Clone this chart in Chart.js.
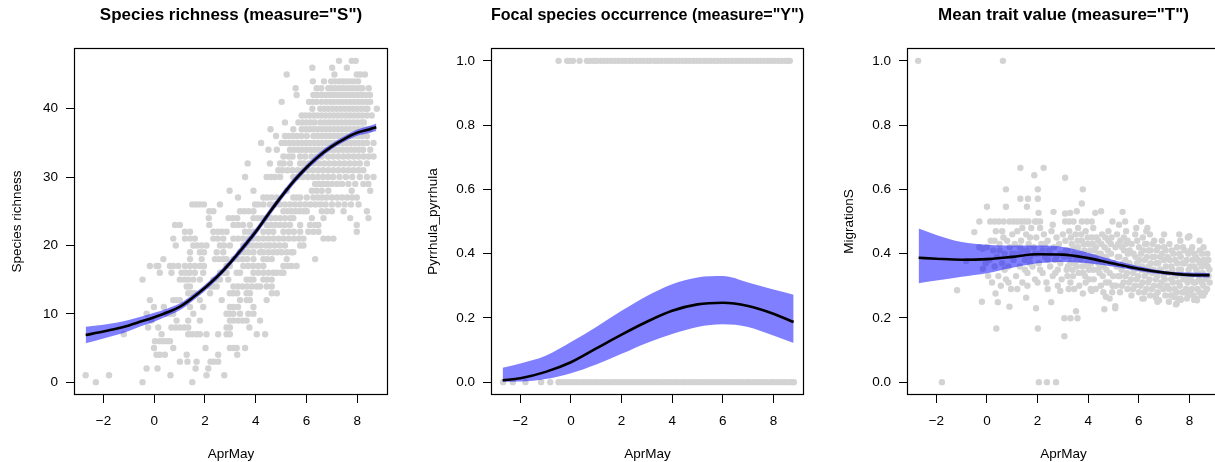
<!DOCTYPE html>
<html><head><meta charset="utf-8">
<script src="https://cdn.jsdelivr.net/npm/chart.js@4.4.1/dist/chart.umd.min.js"></script>
<style>
html,body{margin:0;padding:0;background:#fff;overflow:hidden;width:1215px;height:462px;}
canvas{position:absolute;top:0;}
</style></head><body>
<canvas id="c1" width="405" height="462" style="left:0px"></canvas>
<canvas id="c2" width="405" height="462" style="left:405px"></canvas>
<canvas id="c3" width="420" height="462" style="left:810px"></canvas>
<script>
// ---------- shared axis data ----------
const xTicks = [-2, 0, 2, 4, 6, 8];
const richTicks = [0, 10, 20, 30, 40];
const propTicks = [0, 0.2, 0.4, 0.6, 0.8, 1.0];
const xRange = [-3.16, 9.21];
const richRange = [-1.88, 48.88];
const propRange = [-0.04, 1.04];

// ---------- panel 1: species richness ----------
const richnessRows = [
 [47,[7.28,7.78,7.94]],
 [46,[6.23,7.01,7.59]],
 [45,[5.22,7.10,7.98,8.12,8.30]],
 [44,[6.25,6.69,6.97,7.12,7.28,7.42,7.55,7.70,7.85,8.03]],
 [43,[5.57,6.40,6.58,6.86,7.00,7.15,7.30,7.45,7.62,7.78,7.95,8.10,8.20,8.45]],
 [42,[5.61,6.27,6.42,6.58,6.74,6.90,7.05,7.20,7.36,7.52,7.68,7.84,8.00,8.16,8.32,8.50]],
 [41,[5.02,6.10,6.25,6.40,6.60,6.78,6.95,7.10,7.26,7.42,7.58,7.74,7.90,8.06,8.22,8.38,8.51]],
 [40,[6.23,6.54,6.70,6.86,7.02,7.18,7.34,7.50,7.66,7.82,7.98,8.14,8.30,8.40,8.77]],
 [39,[5.81,5.96,6.12,6.28,6.44,6.60,6.76,6.92,7.08,7.24,7.40,7.56,7.72,7.88,8.04,8.20,8.38,8.57]],
 [38,[5.15,5.68,5.84,6.00,6.16,6.32,6.55,6.72,6.88,7.04,7.20,7.36,7.52,7.68,7.84,8.00,8.16,8.26]],
 [37,[4.58,5.48,5.81,5.97,6.13,6.29,6.45,6.61,6.77,6.93,7.09,7.25,7.41,7.57,7.73,7.89,8.05,8.21,8.37,8.51]],
 [36,[4.80,5.15,5.30,5.46,5.62,5.80,6.01,6.27,6.43,6.59,6.75,6.91,7.07,7.23,7.39,7.55,7.71,7.87,8.03,8.19,8.38]],
 [35,[4.21,5.02,5.18,5.34,5.50,5.66,5.82,5.98,6.14,6.30,6.46,6.62,6.78,6.94,7.10,7.26,7.42,7.58,7.74,7.90,8.06,8.22,8.38,8.64]],
 [34,[4.50,4.83,5.35,5.51,5.67,5.83,5.99,6.15,6.31,6.47,6.63,6.79,6.95,7.11,7.27,7.43,7.59,7.75,7.91,8.07,8.23,8.51]],
 [33,[5.09,5.30,5.45,5.75,5.95,6.20,6.40,6.60,6.85,7.05,7.25,7.45,7.65,7.85,8.05,8.25,8.45,8.64]],
 [32,[3.68,4.56,4.96,5.10,5.35,5.75,5.90,6.10,6.30,6.50,6.70,6.90,7.10,7.30,7.50,7.70,7.90,8.10,8.38]],
 [31,[4.89,5.05,5.25,5.45,5.65,5.85,6.05,6.25,6.45,6.65,6.85,7.05,7.25,7.45,7.65,7.85,8.05,8.24]],
 [30,[3.58,4.43,4.60,4.76,4.96,5.48,5.65,5.85,6.05,6.25,6.45,6.65,6.85,7.05,7.30,7.55,7.80,8.10,8.38,8.64]],
 [29,[6.34,6.50,6.66,6.82,7.00,7.20,7.40,7.65,7.92,8.24,8.44]],
 [28,[2.97,3.91,5.22,6.21,6.40,6.60,6.86,7.78,8.51]],
 [27,[3.30,4.30,4.45,4.63,4.83,5.48,5.62,5.75,6.01,6.27,6.45,6.62,6.80,7.00,7.20,7.40,7.60,7.80,7.98]],
 [26,[1.50,1.65,1.80,1.96,2.59,3.97,4.10,4.30,4.56,4.75,4.95,5.15,5.35,5.55,5.75,5.95,6.15,6.35,6.55,6.75,7.00,7.25,7.50,7.75,8.05]],
 [25,[2.17,2.33,3.38,3.55,3.72,3.91,5.09,5.25,5.41,5.57,5.73,5.88,6.01,6.60,6.80,7.00,7.46,8.38]],
 [24,[2.15,2.93,3.10,3.27,3.91,4.08,4.25,4.42,4.60,4.78,4.96,5.15,5.35,5.48,6.21,6.67,7.72,8.44]],
 [23,[0.82,1.01,2.17,3.12,3.30,3.50,3.77,4.43,4.60,4.78,4.96,5.15,5.35,5.75,6.14,6.34,6.47,7.98]],
 [22,[1.21,1.41,2.33,2.50,2.66,2.85,3.58,3.75,3.91,4.30,4.50,4.69,5.09,5.30,5.50,5.75,6.07,6.27,6.47,7.98]],
 [21,[0.75,1.21,1.41,1.60,2.33,2.50,2.72,3.12,3.30,3.50,3.70,3.90,4.10,4.30,4.50,4.70,4.90,5.10,5.30,5.50,5.70,5.88,6.67,6.86,7.06]],
 [20,[0.85,1.54,1.70,1.87,2.06,2.59,2.75,2.98,3.51,3.68,3.85,4.02,4.20,4.40,4.56,4.75,4.95,5.15,5.75,5.88]],
 [19,[1.41,1.80,1.96,2.46,2.72,3.38,3.55,3.71,3.91,4.17,4.30,4.50,4.68,4.85,5.02,5.22,5.40,5.48]],
 [18,[0.36,1.41,1.87,2.39,2.55,2.72,2.85,3.12,3.30,3.48,3.66,3.91,4.30,4.45,4.63,5.22,6.34]],
 [17,[-0.17,0.09,0.16,0.62,0.75,0.95,1.21,1.41,1.60,1.80,1.96,2.85,2.98,3.51,3.70,3.90,4.10,4.30,5.09,5.25,5.41,5.61]],
 [16,[0.22,0.68,1.08,1.25,1.41,1.60,1.93,2.59,2.75,2.85,3.25,3.38,3.91,4.10,4.30,4.50,4.69,4.83,5.00,5.09]],
 [15,[-0.46,1.01,1.18,1.34,1.54,1.80,2.33,2.46,2.59,2.92,3.64,3.78,3.91,4.30,4.45,4.63]],
 [14,[1.28,1.41,2.20,2.33,2.46,3.12,3.30,3.48,3.66,3.85,4.04,4.17,4.43,4.63]],
 [13,[1.34,1.47,1.60,2.20,2.98,3.12,3.27,3.64,3.77,4.63,4.83]],
 [12,[-0.17,0.75,0.88,1.01,1.80,2.66,3.38,3.64,3.77,4.43]],
 [11,[-0.01,0.38,1.41,1.93,2.98,3.12,3.30,3.91]],
 [10,[-0.30,0.49,0.62,0.75,1.54,2.85,2.98,3.12,3.38,3.71,3.91]],
 [9,[-0.11,0.88,1.34,1.80,2.98,3.12,3.30,3.48,3.64,4.17]],
 [8,[-0.24,0.16,0.68,0.85,1.01,1.18,1.34,2.85,2.98,3.75]],
 [7,[-1.20,0.29,1.34,1.50,1.67,1.80,2.06,2.52,2.85,2.98,4.04,4.37]],
 [6,[0.03,0.22,0.36,0.49,0.62]],
 [5,[-0.01,0.75,2.02,2.98,3.12,3.25,3.58]],
 [4,[0.09,0.22,0.42,1.28,2.52,3.27]],
 [3,[1.01,1.31,1.67,2.22,2.35,2.52]],
 [2,[-0.30,0.13,1.63,2.13]],
 [1,[-2.70,-1.78,0.64,2.06,2.76]],
 [0,[-2.30,-0.46,1.50]]
];
const richFitX  = [-2.7,-2,-1.5,-1,-0.5,0,0.5,1,1.5,2,2.5,3,3.5,4,4.5,5,5.5,6,6.5,7,7.5,8,8.5,8.75];
const richFit   = [6.9,7.4,7.8,8.3,8.9,9.5,10.2,11.0,12.3,13.8,15.5,17.5,19.7,22.0,24.6,27.1,29.4,31.4,33.1,34.5,35.6,36.5,37.0,37.3];
const richUpper = [8.1,8.4,8.7,9.1,9.6,10.15,10.75,11.5,12.75,14.25,15.95,17.95,20.2,22.5,25.1,27.6,29.9,31.85,33.55,34.9,36.0,36.95,37.5,37.85];
const richLower = [5.7,6.4,6.9,7.5,8.2,8.85,9.65,10.5,11.85,13.35,15.05,17.05,19.2,21.5,24.1,26.6,28.9,30.95,32.65,34.1,35.2,36.05,36.5,36.75];

// ---------- panel 2: focal species occurrence ----------
const occPresentX = [-0.49,-0.15,-0.05,0.08,0.34,0.63,0.75,0.9,1.02,1.18,1.31,1.45,1.6,1.74,1.88,2.03,2.16,2.31,2.44,2.6,2.73,2.87,3.02,3.14,3.3,3.43,3.57,3.72,3.85,3.99,4.14,4.27,4.42,4.55,4.69,4.84,4.97,5.11,5.26,5.39,5.53,5.68,5.81,5.95,6.1,6.23,6.37,6.52,6.65,6.79,6.94,7.07,7.21,7.36,7.49,7.63,7.78,7.91,8.05,8.2,8.33,8.47,8.58,8.65];
const occAbsentX = [-2.68,-2.30,-1.80,-1.18,-0.82,-0.49,-0.36,-0.22,-0.08,0.06,0.2,0.33,0.48,0.61,0.75,0.9,1.03,1.17,1.32,1.45,1.6,1.73,1.87,2.02,2.15,2.3,2.43,2.57,2.72,2.85,3.0,3.13,3.27,3.42,3.55,3.7,3.83,3.97,4.12,4.25,4.4,4.53,4.67,4.82,4.95,5.1,5.23,5.37,5.52,5.65,5.8,5.93,6.07,6.22,6.35,6.5,6.63,6.77,6.92,7.05,7.2,7.33,7.47,7.62,7.75,7.9,8.03,8.17,8.32,8.45,8.6,8.72,8.81];
const occFitX  = [-2.7,-2,-1,0,1,2,3,4,5,6,7,8,8.8];
const occFit   = [0.006,0.012,0.032,0.062,0.105,0.148,0.188,0.222,0.242,0.247,0.237,0.213,0.187];
const occUpper = [0.045,0.058,0.082,0.125,0.172,0.222,0.268,0.305,0.326,0.330,0.310,0.288,0.272];
const occLower = [0.001,0.002,0.010,0.028,0.055,0.088,0.122,0.150,0.172,0.180,0.172,0.145,0.122];

// ---------- panel 3: mean trait value ----------
const traitPoints = [
 [-2.72,1.0],[0.63,1.0],[-1.78,0],[2.05,0],[2.37,0],[2.73,0],
 [1.32,0.667],[2.24,0.667],[1.87,0.644],[3.09,0.636],[0.75,0.60],[2.01,0.60],[3.79,0.60],[1.32,0.571],[1.62,0.571],[2.01,0.571],
 [3.75,0.556],[0.0,0.546],[0.75,0.546],[1.58,0.546],[2.04,0.527],[2.63,0.53],[3.09,0.525],[3.29,0.527],[3.55,0.532],[4.28,0.527],[4.51,0.532],[5.36,0.53],
 [-0.30,0.5],[0.13,0.5],[0.3,0.5],[0.47,0.5],[0.66,0.5],[0.89,0.5],[1.05,0.5],[1.2,0.5],[1.35,0.5],[1.5,0.5],[1.64,0.5],[1.97,0.5],[2.1,0.5],
 [3.09,0.5],[3.25,0.5],[3.42,0.5],[3.75,0.5],[3.95,0.5],[4.14,0.5],[4.96,0.5],[5.46,0.5],[6.09,0.5],
 [-0.5,0.467],[6.34,0.48],[8.0,0.454],[-1.18,0.286],[-0.82,0.377],[-0.17,0.415],[-0.16,0.353],[-0.2,0.25],[0.34,0.276],[0.43,0.249],[0.37,0.167],
 [0.89,0.235],[1.55,0.263],[2.01,0.167],[1.94,0.23],[2.54,0.249],[2.9,0.284],[3.23,0.29],[3.79,0.276],[3.06,0.199],[3.3,0.199],[3.58,0.199],
 [3.52,0.221],[3.06,0.143],[4.64,0.227],[5.07,0.236],[5.07,0.23],[4.70,0.266],[4.97,0.30],[4.14,0.284],
 [6.68,0.263],[7.47,0.242],[7.66,0.256],[8.19,0.256],
 [-0.3,0.42],[-0.05,0.37],[0.0,0.42],[0.05,0.33],[0.1,0.38],[0.15,0.44],[0.2,0.31],[0.25,0.41],[0.3,0.36],[0.35,0.47],[0.4,0.39],[0.45,0.33],
 [0.5,0.43],[0.55,0.30],[0.6,0.37],[0.65,0.45],[0.7,0.40],[0.75,0.32],[0.8,0.44],[0.85,0.36],[0.9,0.42],[0.95,0.29],[1.0,0.46],[0.3,0.44],
 [0.7,0.35],[0.5,0.41],[0.6,0.47],[0.85,0.31],
 [1.05,0.38],[1.1,0.43],[1.15,0.33],[1.2,0.47],[1.25,0.40],[1.3,0.36],[1.35,0.44],[1.4,0.31],[1.45,0.41],[1.5,0.38],[1.55,0.46],[1.6,0.34],
 [1.65,0.43],[1.7,0.39],[1.75,0.48],[1.8,0.36],[1.85,0.42],[1.9,0.32],[1.95,0.45],[2.0,0.40],[2.05,0.37],[2.1,0.48],[2.15,0.43],[2.2,0.34],
 [2.25,0.46],[2.3,0.39],[2.35,0.31],[2.4,0.44],[2.45,0.41],[2.5,0.36],[2.55,0.47],[2.6,0.33],[2.65,0.42],[2.7,0.38],[2.75,0.45],[2.8,0.35],
 [2.85,0.43],[2.9,0.40],[2.95,0.32],[3.0,0.46],[1.2,0.29],[1.6,0.30],[2.0,0.31],[2.4,0.29],[2.8,0.30],[1.4,0.48],[1.9,0.50],[2.6,0.49],
 [1.0,0.40],[1.7,0.45],[2.2,0.41],[2.75,0.39],
 [1.1,0.40],[1.3,0.42],[1.5,0.35],[1.7,0.37],[1.9,0.40],[2.1,0.35],[2.3,0.43],[2.5,0.40],[2.7,0.34],[2.9,0.37],[1.6,0.41],[2.4,0.38],
 [3.05,0.39],[3.1,0.44],[3.15,0.35],[3.2,0.41],[3.25,0.47],[3.3,0.37],[3.35,0.43],[3.4,0.33],[3.45,0.40],[3.5,0.46],[3.55,0.36],[3.6,0.42],
 [3.65,0.30],[3.7,0.38],[3.75,0.44],[3.8,0.34],[3.85,0.41],[3.9,0.47],[3.95,0.37],[4.0,0.43],[4.05,0.32],[4.1,0.39],[4.15,0.45],[4.2,0.35],
 [4.25,0.41],[4.3,0.29],[4.35,0.38],[4.4,0.44],[4.45,0.34],[4.5,0.40],[4.55,0.46],[4.6,0.36],[4.65,0.42],[4.7,0.31],[4.75,0.38],[4.8,0.44],
 [4.85,0.34],[4.9,0.40],[4.95,0.28],[5.0,0.37],[3.3,0.31],[3.6,0.48],[3.9,0.31],[4.2,0.48],[4.5,0.30],[4.8,0.47],[3.5,0.39],[4.0,0.36],
 [4.3,0.42],[4.7,0.39],[3.2,0.36],[3.8,0.40],[4.4,0.37],[4.9,0.43],
 [3.12,0.41],[3.18,0.33],[3.27,0.39],[3.32,0.45],[3.38,0.35],[3.43,0.42],[3.48,0.37],[3.58,0.44],[3.62,0.34],[3.68,0.40],[3.72,0.46],[3.78,0.36],
 [3.83,0.43],[3.88,0.33],[3.93,0.39],[3.98,0.45],[4.03,0.35],[4.08,0.41],[4.12,0.37],[4.18,0.43],[4.22,0.32],[4.28,0.39],[4.33,0.45],[4.38,0.35],
 [4.42,0.40],[4.48,0.36],[4.52,0.43],[4.58,0.33],[4.62,0.39],[4.68,0.45],[4.72,0.35],[4.78,0.41],[4.82,0.31],[4.88,0.37],[4.92,0.45],[4.98,0.33],
 [3.45,0.29],[4.1,0.29],[4.6,0.28],[4.85,0.26],
 [5.1,0.30],[5.12,0.36],[5.08,0.42],[5.14,0.46],[5.25,0.33],[5.23,0.39],[5.27,0.44],[5.26,0.28],[5.4,0.31],[5.38,0.37],[5.42,0.41],[5.41,0.45],
 [5.55,0.29],[5.53,0.34],[5.57,0.40],[5.56,0.44],[5.7,0.32],[5.68,0.36],[5.72,0.43],[5.71,0.27],[5.85,0.30],[5.83,0.35],[5.87,0.39],[5.86,0.46],
 [6.0,0.28],[5.98,0.33],[6.02,0.38],[6.01,0.42],[6.15,0.31],[6.13,0.36],[6.17,0.41],[6.16,0.45],[6.14,0.26],[6.3,0.29],[6.28,0.34],[6.32,0.39],
 [6.31,0.43],[6.45,0.27],[6.43,0.32],[6.47,0.37],[6.46,0.41],[6.44,0.46],[6.6,0.30],[6.58,0.35],[6.62,0.39],[6.61,0.44],[6.75,0.28],[6.73,0.33],
 [6.77,0.37],[6.76,0.42],[6.74,0.25],[6.9,0.31],[6.88,0.35],[6.92,0.40],[6.91,0.44],[7.05,0.27],[7.03,0.32],[7.07,0.36],[7.06,0.41],[7.2,0.29],
 [7.18,0.34],[7.22,0.38],[7.21,0.43],[7.19,0.25],[7.35,0.31],[7.33,0.35],[7.37,0.40],[7.36,0.27],[7.5,0.28],[7.48,0.33],[7.52,0.37],[7.51,0.42],
 [7.65,0.26],[7.63,0.30],[7.67,0.35],[7.66,0.39],[7.64,0.44],[7.8,0.28],[7.78,0.32],[7.82,0.37],[7.81,0.41],[7.95,0.27],[7.93,0.31],[7.97,0.35],
 [7.96,0.40],[7.94,0.45],[8.1,0.29],[8.08,0.33],[8.12,0.38],[8.11,0.42],[8.25,0.26],[8.23,0.31],[8.27,0.35],[8.26,0.39],[8.4,0.28],[8.38,0.32],
 [8.42,0.37],[8.41,0.41],[8.55,0.30],[8.53,0.34],[8.57,0.38],[8.56,0.42],[8.7,0.29],[8.68,0.33],[8.72,0.36],[8.71,0.40],[8.8,0.31],[8.79,0.35],
 [5.22,0.49],[5.5,0.47],[5.9,0.48],[6.3,0.47],[7.0,0.46],[7.6,0.46],[8.4,0.44],[7.5,0.245],[7.9,0.26],[8.3,0.255],[8.55,0.27],[6.2,0.26],
 [6.8,0.255],[7.4,0.265],
 [5.18,0.33],[5.17,0.39],[5.19,0.43],[5.33,0.30],[5.32,0.35],[5.34,0.42],[5.48,0.33],[5.47,0.38],[5.49,0.43],[5.62,0.31],[5.63,0.37],[5.64,0.41],
 [5.77,0.29],[5.78,0.34],[5.79,0.40],[5.92,0.32],[5.93,0.37],[5.94,0.44],[6.07,0.30],[6.08,0.35],[6.09,0.40],[6.22,0.28],[6.23,0.33],[6.24,0.38],
 [6.25,0.43],[6.37,0.31],[6.38,0.36],[6.39,0.41],[6.52,0.29],[6.53,0.34],[6.54,0.39],[6.55,0.43],[6.67,0.27],[6.68,0.32],[6.69,0.37],[6.70,0.41],
 [6.82,0.30],[6.83,0.35],[6.84,0.39],[6.97,0.29],[6.98,0.33],[6.99,0.38],[7.0,0.42],[7.12,0.30],[7.13,0.34],[7.14,0.39],[7.27,0.27],[7.28,0.32],
 [7.29,0.36],[7.30,0.41],[7.42,0.29],[7.43,0.33],[7.44,0.38],[7.57,0.26],[7.58,0.31],[7.59,0.35],[7.60,0.40],[7.72,0.28],[7.73,0.33],[7.74,0.37],
 [7.75,0.42],[7.87,0.29],[7.88,0.33],[7.89,0.38],[8.02,0.28],[8.03,0.32],[8.04,0.36],[8.05,0.41],[8.17,0.27],[8.18,0.31],[8.19,0.36],[8.20,0.40],
 [8.32,0.29],[8.33,0.34],[8.34,0.38],[8.47,0.27],[8.48,0.31],[8.49,0.36],[8.50,0.40],[8.62,0.28],[8.63,0.32],[8.64,0.37],[8.76,0.33],[8.75,0.38]
];
const traitFitX  = [-2.7,-2,-1,0,1,2,3,4,5,6,7,8,8.8];
const traitFit   = [0.387,0.384,0.381,0.383,0.390,0.398,0.397,0.386,0.369,0.353,0.341,0.334,0.333];
const traitUpper = [0.478,0.458,0.436,0.428,0.425,0.425,0.421,0.403,0.380,0.361,0.346,0.341,0.340];
const traitLower = [0.308,0.316,0.328,0.339,0.356,0.370,0.374,0.370,0.360,0.346,0.335,0.328,0.326];

// ---------- rendering ----------
const FONT = "'Liberation Sans', Arial, Helvetica, sans-serif";
const boxPlugin = {
  id: 'box',
  afterDraw(chart) {
    const a = chart.chartArea, ctx = chart.ctx;
    ctx.save();
    ctx.strokeStyle = '#000'; ctx.lineWidth = 1.2;
    ctx.strokeRect(Math.round(a.left) + 0.5, Math.round(a.top) + 0.5,
      Math.round(a.right) - Math.round(a.left) - 1, Math.round(a.bottom) - Math.round(a.top) - 1);
    ctx.restore();
  }
};
const pairs = (xs, ys) => xs.map((x, i) => ({x, y: ys[i]}));
const minus = s => String(s).replace('-', '\u2212');

function makeChart(id, o) {
  const gridOpts = {display: true, drawOnChartArea: false, drawTicks: true, tickLength: 8, tickWidth: 1, tickColor: '#000', color: '#000'};
  new Chart(document.getElementById(id), {
    type: 'scatter',
    data: {
      datasets: [
        {type: 'line', label: 'fit', data: pairs(o.fitX, o.fit), borderColor: '#000', borderWidth: 2.6,
         pointRadius: 0, fill: false, cubicInterpolationMode: 'monotone', order: 0},
        {type: 'line', label: 'upper', data: pairs(o.fitX, o.upper), borderColor: 'rgba(0,0,0,0)', borderWidth: 0,
         pointRadius: 0, fill: {target: 2}, backgroundColor: 'rgba(0,0,255,0.5)', cubicInterpolationMode: 'monotone', order: 1},
        {type: 'line', label: 'lower', data: pairs(o.fitX, o.lower), borderColor: 'rgba(0,0,0,0)', borderWidth: 0,
         pointRadius: 0, fill: false, cubicInterpolationMode: 'monotone', order: 2},
        {type: 'scatter', label: 'obs', data: o.points, pointRadius: 3.2, pointBackgroundColor: '#d3d3d3',
         pointBorderWidth: 0, pointBorderColor: 'rgba(0,0,0,0)', order: 3}
      ]
    },
    options: {
      responsive: false, animation: false, devicePixelRatio: 1, events: [],
      layout: {padding: {left: 0, right: o.padRight, top: 0, bottom: 0}},
      plugins: {
        legend: {display: false}, tooltip: {enabled: false},
        title: {display: true, text: o.title, fullSize: false, color: '#000',
                font: {family: FONT, size: 17, weight: 'bold', lineHeight: 1.2}, padding: {top: 4.8, bottom: 22.8}}
      },
      scales: {
        x: {
          type: 'linear', min: xRange[0], max: xRange[1], bounds: 'data',
          afterBuildTicks: s => { s.ticks = xTicks.map(v => ({value: v})); },
          afterFit: s => { s.height = 67; },
          grid: gridOpts, border: {display: false},
          ticks: {autoSkip: false, maxRotation: 0, minRotation: 0, padding: 10.6, color: '#000',
                  font: {family: FONT, size: 13.5}, callback: v => minus(v)},
          title: {display: true, text: 'AprMay', color: '#000', font: {family: FONT, size: 13.5, lineHeight: 1.2}, padding: {top: 0, bottom: 0}}
        },
        y: {
          type: 'linear', min: o.yRange[0], max: o.yRange[1], bounds: 'data',
          afterBuildTicks: s => { s.ticks = o.yTicks.map(v => ({value: v})); },
          afterFit: s => { s.width = o.yWidth; },
          grid: gridOpts, border: {display: false},
          ticks: {autoSkip: false, padding: 8, color: '#000', font: {family: FONT, size: 13.5}, callback: o.yFmt},
          title: {display: true, text: o.yTitle, color: '#000', font: {family: FONT, size: 13.5, lineHeight: 1.2},
                  padding: {top: o.yTitlePad, bottom: 0}}
        }
      }
    },
    plugins: [boxPlugin]
  });
}

const richPoints = [];
richnessRows.forEach(([y, xs]) => xs.forEach(x => richPoints.push({x, y})));
const occPoints = occPresentX.map(x => ({x, y: 1})).concat(occAbsentX.map(x => ({x, y: 0})));
const traitPts = traitPoints.map(([x, y]) => ({x, y}));

makeChart('c1', {title: 'Species richness (measure="S")', yTitle: 'Species richness', yRange: richRange, yTicks: richTicks,
  yFmt: v => String(v), yWidth: 74, padRight: 17, yTitlePad: 8.9,
  fitX: richFitX, fit: richFit, upper: richUpper, lower: richLower, points: richPoints});
makeChart('c2', {title: 'Focal species occurrence (measure="Y")', yTitle: 'Pyrrhula_pyrrhula', yRange: propRange, yTicks: propTicks,
  yFmt: v => v.toFixed(1), yWidth: 86, padRight: 6, yTitlePad: 19.9,
  fitX: occFitX, fit: occFit, upper: occUpper, lower: occLower, points: occPoints});
makeChart('c3', {title: 'Mean trait value (measure="T")', yTitle: 'MigrationS', yRange: propRange, yTicks: propTicks,
  yFmt: v => v.toFixed(1), yWidth: 97, padRight: 10, yTitlePad: 30.9,
  fitX: traitFitX, fit: traitFit, upper: traitUpper, lower: traitLower, points: traitPts});
</script></body></html>
